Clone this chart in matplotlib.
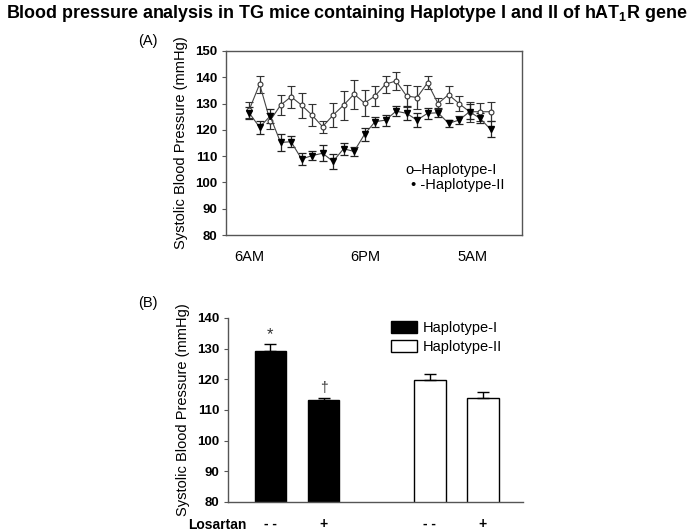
import numpy as np
import matplotlib
matplotlib.use("Agg")
import matplotlib.pyplot as plt

plt.rcParams['font.family'] = ['Liberation Sans', 'DejaVu Sans']
plt.rcParams['mathtext.fontset'] = 'custom'
plt.rcParams['mathtext.rm'] = 'Liberation Sans'
plt.rcParams['mathtext.bf'] = 'Liberation Sans:bold'

# (A) 24 hourly readings, systolic BP (mmHg)
hap1_mean = [127.5, 137.4, 123.5, 129.4, 132.6, 129.4, 125.6, 121.2, 125.6, 129.4, 133.6, 130.2,
             132.9, 137.4, 138.6, 132.9, 132.3, 137.9, 130.0, 133.4, 130.0, 126.9, 126.9, 126.9]
hap1_err = [3.0, 3.2, 3.0, 3.8, 4.2, 4.7, 4.3, 2.3, 4.5, 5.5, 5.5, 4.9,
            3.8, 3.2, 3.3, 4.1, 4.4, 2.4, 2.0, 3.2, 2.8, 3.8, 3.5, 3.6]
hap2_mean = [126.5, 121.0, 125.2, 115.2, 115.5, 108.9, 110.2, 111.1, 108.0, 112.8, 111.8, 118.3,
             123.1, 123.7, 127.1, 126.3, 123.7, 126.3, 126.5, 122.5, 123.7, 126.9, 124.4, 120.2]
hap2_err = [2.2, 2.4, 2.6, 3.3, 2.0, 2.2, 1.7, 3.0, 3.0, 2.2, 1.6, 2.5,
            1.9, 2.1, 1.9, 2.6, 2.6, 2.0, 1.7, 1.4, 1.4, 2.8, 1.9, 3.0]
time_ticks = [0, 11.1, 21.3]
time_labels = ['6AM', '6PM', '5AM']

# (B) mean BP with / without losartan
bar_pos = [0, 1, 3, 4]
bar_vals = [129.3, 113.4, 119.7, 114.0]
bar_err = [2.3, 0.55, 2.0, 1.9]
bar_colors = ['black', 'black', 'white', 'white']
losartan = ['- -', '+', '- -', '+']

fig = plt.figure(figsize=(6.93, 5.31), dpi=100)

fig.text(0.5, 1 - 14 / 531, 'Blood pressure analysis in TG mice containing Haplotype I and II of hAT$_\\mathbf{1}$R gene',
         ha='center', va='center', fontsize=12.9, fontweight='bold')

spine_col = '#555555'
tick_font = dict(fontsize=9.5, fontweight='bold')

# ---- panel A ----
axA = fig.add_axes([226 / 693, 1 - 235 / 531, 296 / 693, 184 / 531])
x = np.arange(len(hap1_mean))
axA.errorbar(x, hap1_mean, yerr=hap1_err, color='#444444', lw=0.8, marker='o', ms=3.5,
             mfc='white', mec='#333333', mew=0.8, ecolor='#333333', elinewidth=0.9, capsize=3, capthick=0.9)
axA.errorbar(x, hap2_mean, yerr=hap2_err, color='#444444', lw=0.8, marker='v', ms=3.8,
             mfc='black', mec='black', ecolor='#222222', elinewidth=0.9, capsize=3, capthick=0.9)
axA.set_xlim(-2.2, 26.0)
axA.set_ylim(80, 150)
axA.set_yticks(range(80, 151, 10))
axA.set_yticklabels([str(v) for v in range(80, 151, 10)], **tick_font)
axA.set_xticks(time_ticks)
axA.set_xticklabels(time_labels, fontsize=10.5)
axA.tick_params(axis='x', length=0, pad=11)
axA.tick_params(axis='y', length=3, width=0.8, color=spine_col, pad=3)
for s in axA.spines.values():
    s.set_color(spine_col)
    s.set_linewidth(1.0)
axA.set_ylabel('Systolic Blood Pressure (mmHg)', fontsize=10.5, labelpad=5)
axA.text(0.605, 0.353, 'o\u2013Haplotype-I', transform=axA.transAxes, fontsize=10.5, va='center')
axA.text(0.625, 0.272, '\u2022 -Haplotype-II', transform=axA.transAxes, fontsize=10.5, va='center')
fig.text(138 / 693, 1 - 41 / 531, '(A)', fontsize=10.5, va='center')

# ---- panel B ----
axB = fig.add_axes([228 / 693, 1 - 502 / 531, 295 / 693, 184 / 531])
bars = axB.bar(bar_pos, bar_vals, width=0.6, bottom=0, color=bar_colors, edgecolor='black', linewidth=1.0)
axB.errorbar(bar_pos, bar_vals, yerr=[[0] * 4, bar_err], fmt='none', ecolor='black',
             elinewidth=1.0, capsize=4, capthick=1.0)
axB.set_ylim(80, 140)
axB.set_xlim(-0.8, 4.76)
axB.set_yticks(range(80, 141, 10))
axB.set_yticklabels([str(v) for v in range(80, 141, 10)], **tick_font)
axB.set_xticks(bar_pos)
axB.set_xticklabels(losartan, fontsize=10, fontweight='bold')
axB.tick_params(axis='x', length=0, pad=11)
axB.tick_params(axis='y', length=3, width=0.8, color=spine_col, pad=3)
for side in ['top', 'right']:
    axB.spines[side].set_visible(False)
for side in ['left', 'bottom']:
    axB.spines[side].set_color(spine_col)
    axB.spines[side].set_linewidth(1.0)
axB.set_ylabel('Systolic Blood Pressure (mmHg)', fontsize=10.5, labelpad=5)
axB.annotate('*', (bar_pos[0], bar_vals[0] + bar_err[0]), xytext=(0, 1), textcoords='offset points',
             ha='center', va='bottom', fontsize=12, color='#333333')
axB.annotate('\u2020', (bar_pos[1], bar_vals[1] + bar_err[1]), xytext=(0, 2), textcoords='offset points',
             ha='center', va='bottom', fontsize=10, color='#333333')
axB.legend([bars[0], bars[2]], ['Haplotype-I', 'Haplotype-II'], loc='upper left',
           bbox_to_anchor=(0.553, 0.985), frameon=False, fontsize=10.5, borderpad=0, borderaxespad=0,
           handlelength=1.8, handleheight=0.9, handletextpad=0.4, labelspacing=0.35)
fig.text(138 / 693, 1 - 303 / 531, '(B)', fontsize=10.5, va='center')
fig.text(188 / 693, 1 - 525 / 531, 'Losartan', fontsize=10, fontweight='bold', va='center')

fig.savefig('out.png', dpi=100)
